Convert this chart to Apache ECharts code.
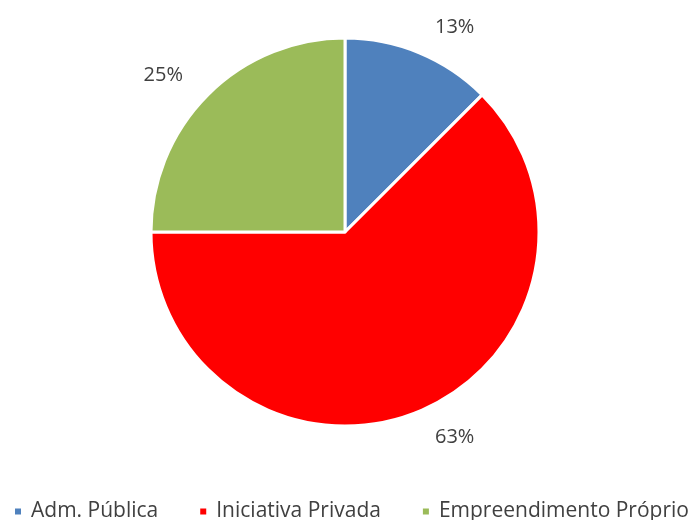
<!DOCTYPE html>
<html>
<head>
<meta charset="utf-8">
<script src="https://cdn.jsdelivr.net/npm/echarts@6/dist/echarts.min.js"></script>
<style>
  html, body { margin: 0; padding: 0; background: #fff; }
  #chart { width: 688px; height: 520px; }
</style>
</head>
<body>
<div id="chart"></div>
<script>
// dados do gráfico
const categories = ['Adm. Pública', 'Iniciativa Privada', 'Empreendimento Próprio'];
const values = [12.5, 62.5, 25];
const colors = ['#4F81BD', '#FF0000', '#9BBB59'];

const chart = echarts.init(document.getElementById('chart'));
const option = {
    animation: false,
    color: colors,
    legend: {
        bottom: -7,
        left: 8,
        width: 760,
        icon: 'rect',
        itemWidth: 8,
        itemHeight: 8,
        itemGap: 40,
        textStyle: {
            fontFamily: 'Open Sans',
            fontSize: 21,
            color: '#404040',
            padding: [0, 0, 0, 4],
        },
        data: categories,
    },
    series: [
        {
            type: 'pie',
            center: [345, 232],
            radius: 194,
            startAngle: 90,
            clockwise: true,
            itemStyle: {
                borderColor: '#fff',
                borderWidth: 3,
            },
            label: {
                position: 'outside',
                fontFamily: 'Open Sans',
                fontSize: 20,
                color: '#404040',
                formatter: (p) => Math.round(p.value) + '%',
            },
            labelLine: {
                show: false,
                length: 28,
                length2: 0,
            },
            data: categories.map((name, i) => ({ name, value: values[i] })),
        },
    ],
};
chart.setOption(option);
</script>
</body>
</html>
